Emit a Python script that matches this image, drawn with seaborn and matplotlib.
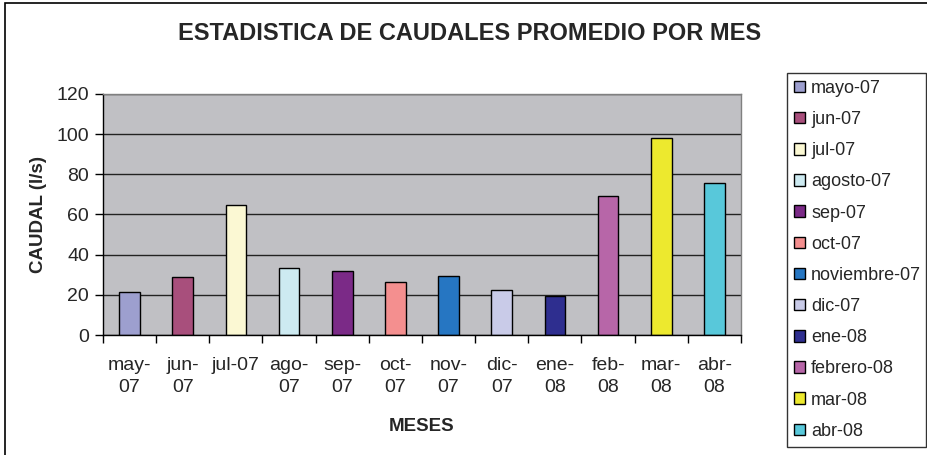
import matplotlib

matplotlib.use("Agg")
import matplotlib.pyplot as plt
import matplotlib.patches as mpatches
import pandas as pd
import seaborn as sns

# data
tick_labels = [
    "may-\n07", "jun-\n07", "jul-07", "ago-\n07", "sep-\n07", "oct-\n07",
    "nov-\n07", "dic-\n07", "ene-\n08", "feb-\n08", "mar-\n08", "abr-\n08",
]
legend_labels = [
    "mayo-07", "jun-07", "jul-07", "agosto-07", "sep-07", "oct-07",
    "noviembre-07", "dic-07", "ene-08", "febrero-08", "mar-08", "abr-08",
]
caudal = [21.4, 28.9, 64.7, 33.2, 31.9, 26.5, 29.4, 22.2, 19.4, 69.2, 98.1, 75.8]
colors = [
    "#9d9fcf", "#a84f7c", "#fbf8d3", "#cdeaf1", "#7b2a87", "#f48f8f",
    "#2676c2", "#c9cbe8", "#2e2e8f", "#b766a8", "#ede92e", "#58c8da",
]

df = pd.DataFrame({"mes": tick_labels, "serie": legend_labels, "caudal": caudal})

sns.set_theme(style="white")
plt.rcParams["font.family"] = ["Liberation Sans", "DejaVu Sans"]

fig = plt.figure(figsize=(9.28, 4.55), dpi=100)
ax = fig.add_axes([103 / 928, 1 - 335 / 455, 638 / 928, 241 / 455])
ax.set_facecolor("#c0c0c4")

sns.barplot(
    data=df,
    x="mes",
    y="caudal",
    hue="serie",
    hue_order=legend_labels,
    palette=colors,
    dodge=False,
    width=0.39,
    edgecolor="black",
    linewidth=1.0,
    saturation=1,
    ax=ax,
    legend=False,
)

ax.set_xlim(-0.5, 11.5)
ax.set_ylim(0, 120)
ax.set_yticks(range(0, 121, 20))
ax.yaxis.grid(True, color="#222222", linewidth=1.0)
ax.set_axisbelow(True)
for side in ["top", "right"]:
    ax.spines[side].set_color("#808080")
    ax.spines[side].set_linewidth(1.0)
for side in ["left", "bottom"]:
    ax.spines[side].set_color("black")
    ax.spines[side].set_linewidth(1.0)

# category boundary ticks on the x axis, labels centred under bars
ax.set_xticks([i + 0.5 for i in range(-1, 12)], minor=True)
ax.tick_params(axis="x", which="minor", length=6, width=1, color="black", direction="out", bottom=True)
ax.tick_params(axis="x", which="major", length=0, pad=16, labelsize=14)
ax.tick_params(axis="y", length=6, width=1, color="black", direction="out", left=True, labelsize=14, pad=4)
ax.set_xticks(range(12))
ax.set_xticklabels(tick_labels, linespacing=1.38)

ax.set_xlabel("MESES", fontsize=13.5, fontweight="bold", labelpad=16)
ax.set_ylabel("CAUDAL (l/s)", fontsize=13.5, fontweight="bold", labelpad=7)

fig.text(470 / 928, 1 - 33 / 455, "ESTADISTICA DE CAUDALES PROMEDIO POR MES",
         ha="center", va="center", fontsize=17, fontweight="bold")

handles = [
    mpatches.Patch(facecolor=c, edgecolor="black", linewidth=1.0, label=l)
    for c, l in zip(colors, legend_labels)
]
leg = fig.legend(
    handles=handles,
    loc="upper left",
    bbox_to_anchor=(787 / 928, 1 - 443 / 455, 139 / 928, 370 / 455),
    mode="expand",
    fontsize=13,
    frameon=True,
    fancybox=False,
    borderpad=0.38,
    labelspacing=0.785,
    handlelength=0.6,
    handleheight=0.6,
    handletextpad=0.35,
    borderaxespad=0,
)
leg.get_frame().set_edgecolor("black")
leg.get_frame().set_linewidth(1.0)

# outer chart border
fig.patches.append(
    mpatches.Rectangle((5 / 928, -0.05), 1.1, 1 - 3 / 455 + 0.05, transform=fig.transFigure,
                       fill=False, edgecolor="black", linewidth=1.2)
)

fig.savefig("out.png", dpi=100)
